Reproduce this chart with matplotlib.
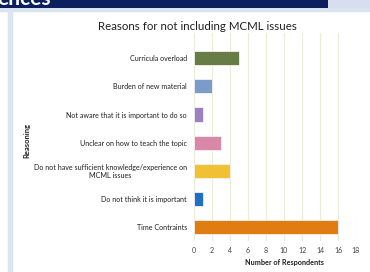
import numpy as np
import matplotlib
matplotlib.use("Agg")
import matplotlib.pyplot as plt
from matplotlib.patches import Rectangle

# data, top to bottom as in the chart
reasons = ['Curricula overload',
           'Burden of new material',
           'Not aware that it is important to do so',
           'Unclear on how to teach the topic',
           'Do not have sufficient knowledge/experience on\nMCML issues',
           'Do not think it is important',
           'Time Contraints']
respondents = [5, 2, 1, 3, 4, 1, 16]
bar_colors = ['#687d45', '#7b9bc8', '#9b80c2', '#d888a8', '#f0c233', '#1f6fc2', '#e07d12']
x_ticks = list(range(0, 20, 2))

plt.rcParams['font.family'] = ['Lato', 'DejaVu Sans']

fig = plt.figure(figsize=(3.7, 2.72), dpi=100)
W, H = 370, 272

# slide background bits (drawn below the axes)
fig.patches.append(Rectangle((328 / W, 1 - 8 / H), 42 / W, 8 / H, transform=fig.transFigure,
                             color='#d7deee', zorder=-1))
fig.patches.append(Rectangle((0, 1 - 11 / H), 1, 3 / H, transform=fig.transFigure,
                             color='#dbe3f1', zorder=-1))
fig.patches.append(Rectangle((8 / W, 0), 4 / W, 1 - 11 / H, transform=fig.transFigure,
                             color='#dce3f1', zorder=-1))

# dark banner with the cut-off heading
banner = fig.add_axes([0, 1 - 8 / H, 328 / W, 8 / H])
banner.set_facecolor('#0b1f5e')
banner.set_xticks([])
banner.set_yticks([])
for s in banner.spines.values():
    s.set_visible(False)
banner.set_xlim(0, 328)
banner.set_ylim(0, 8)
banner.text(-3, 3, 'ences', color='white', fontsize=15, fontweight='bold',
            va='baseline', ha='left', clip_on=True)

# chart
ax = fig.add_axes([194 / W, 1 - 241 / H, (356 - 194) / W, (241 - 33) / H])
y = np.arange(len(reasons))[::-1]
ax.barh(y, respondents, height=0.5, color=bar_colors, edgecolor='#f4f0f0', linewidth=0.6, zorder=3)

ax.set_xlim(0, 18)
ax.set_ylim(-0.5, 6.9)
ax.set_xticks(x_ticks)
ax.set_xticklabels([str(v) for v in x_ticks], fontsize=5, color='#404040')
ax.set_yticks(y)
ax.set_yticklabels(reasons, fontsize=5.1, color='#202020', multialignment='center')
ax.tick_params(length=0, pad=5)
ax.tick_params(axis='x', pad=4)
ax.grid(axis='x', color='#ecebd8', linewidth=0.8, zorder=0)
for s in ax.spines.values():
    s.set_visible(False)

ax.set_xlabel('Number of Respondents', fontsize=5.2, fontweight='bold', color='#202020')
ax.xaxis.set_label_coords((284 - 194) / (356 - 194), -0.085)

fig.text(27 / W, 1 - 141 / H, 'Reasoning', rotation=90, fontsize=5.5, fontweight='bold',
         color='#202020', ha='center', va='center')
fig.text(197 / W, 1 - 26 / H, 'Reasons for not including MCML issues', fontsize=8.3,
         color='#202020', ha='center', va='center')

fig.savefig('out.png', dpi=100)
